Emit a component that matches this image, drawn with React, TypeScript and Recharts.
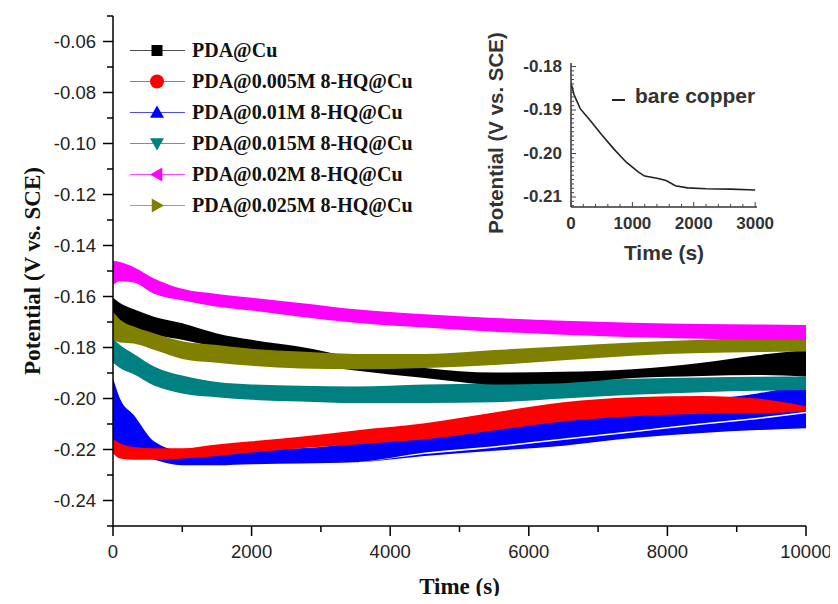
import React from 'react';
import { ComposedChart, LineChart, Line, Area, XAxis, YAxis, Legend, Label } from 'recharts';

// ---------- main chart data ----------
const times = [0, 100, 300, 600, 1000, 1500, 2000, 2700, 3500, 4500, 5500, 6500, 7500, 8500, 9300, 10000];

const seriesNames = [
  'PDA@Cu',
  'PDA@0.005M 8-HQ@Cu',
  'PDA@0.01M 8-HQ@Cu',
  'PDA@0.015M 8-HQ@Cu',
  'PDA@0.02M 8-HQ@Cu',
  'PDA@0.025M 8-HQ@Cu',
];
const seriesColors = ['#000000', '#ff0000', '#0000ff', '#008080', '#ff00ff', '#808000'];
const markerShapes = ['square', 'circle', 'up', 'down', 'left', 'right'];

const blackHi = [-0.1605, -0.1625, -0.165, -0.168, -0.1705, -0.1745, -0.177, -0.1797, -0.184, -0.188, -0.1898, -0.1895, -0.1885, -0.186, -0.183, -0.181];
const blackLo = [-0.169, -0.1705, -0.1725, -0.175, -0.177, -0.18, -0.1825, -0.1861, -0.189, -0.192, -0.1945, -0.194, -0.192, -0.1912, -0.1908, -0.1914];

const redHi = [-0.216, -0.2175, -0.219, -0.2195, -0.2195, -0.218, -0.2168, -0.215, -0.2125, -0.2097, -0.2055, -0.2015, -0.1995, -0.199, -0.2, -0.203];
const redLo = [-0.2215, -0.2235, -0.224, -0.224, -0.2235, -0.2225, -0.2212, -0.2195, -0.218, -0.216, -0.2125, -0.209, -0.207, -0.206, -0.2058, -0.205];

const blueHi = [-0.192, -0.2, -0.2065, -0.217, -0.2205, -0.22, -0.2198, -0.2195, -0.2175, -0.214, -0.211, -0.207, -0.2035, -0.2005, -0.198, -0.1945];
const blueLo = [-0.2215, -0.2205, -0.2215, -0.224, -0.2262, -0.2262, -0.2258, -0.2255, -0.225, -0.2225, -0.2205, -0.2185, -0.2155, -0.2135, -0.2124, -0.2117];
// thin white gap between the two blue strands (lower edge of upper strand / upper edge of lower strand)
const blueGapTop = [-0.2215, -0.2205, -0.2215, -0.224, -0.2262, -0.2262, -0.2258, -0.2255, -0.225, -0.2212, -0.2187, -0.2157, -0.2127, -0.2097, -0.2075, -0.2052];
const blueGapBottom = [-0.2215, -0.2205, -0.2215, -0.224, -0.2262, -0.2262, -0.2258, -0.2255, -0.225, -0.2218, -0.2193, -0.2163, -0.2133, -0.2103, -0.2081, -0.2058];

const tealHi = [-0.1765, -0.179, -0.1825, -0.1875, -0.191, -0.1935, -0.1945, -0.195, -0.1953, -0.1945, -0.194, -0.1932, -0.1923, -0.1918, -0.1915, -0.1914];
const tealLo = [-0.186, -0.188, -0.1905, -0.195, -0.198, -0.1995, -0.2005, -0.2012, -0.2018, -0.2018, -0.2015, -0.2, -0.1985, -0.1975, -0.197, -0.1967];

const magentaHi = [-0.146, -0.1465, -0.1485, -0.153, -0.157, -0.159, -0.1605, -0.1625, -0.165, -0.167, -0.1684, -0.1695, -0.1703, -0.1708, -0.171, -0.1712];
const magentaLo = [-0.1555, -0.154, -0.1545, -0.159, -0.1615, -0.164, -0.1655, -0.1679, -0.1703, -0.1722, -0.1738, -0.175, -0.176, -0.1766, -0.1769, -0.1771];

const oliveHi = [-0.166, -0.169, -0.1718, -0.1745, -0.1775, -0.179, -0.1805, -0.1816, -0.1825, -0.1825, -0.181, -0.1795, -0.178, -0.177, -0.1763, -0.1758];
const oliveLo = [-0.177, -0.178, -0.1784, -0.181, -0.1845, -0.186, -0.1872, -0.1882, -0.1885, -0.188, -0.1869, -0.185, -0.1832, -0.1822, -0.1818, -0.1816];

const xMajorTicks = [0, 2000, 4000, 6000, 8000, 10000];
const xMinorTicks = [1000, 3000, 5000, 7000, 9000];
const yMajorTicks = [-0.24, -0.22, -0.2, -0.18, -0.16, -0.14, -0.12, -0.1, -0.08, -0.06];
const yMinorTicks = [-0.25, -0.23, -0.21, -0.19, -0.17, -0.15, -0.13, -0.11, -0.09, -0.07, -0.05];

// ---------- inset data ----------
const insetTimes = [0, 50, 150, 300, 500, 700, 900, 1100, 1200, 1400, 1550, 1700, 1900, 2200, 2600, 3000];
const insetValues = [-0.1838, -0.1865, -0.1897, -0.1922, -0.1957, -0.199, -0.202, -0.2043, -0.2052, -0.2057, -0.2062, -0.2074, -0.2079, -0.2081, -0.2082, -0.2084];
const insetName = 'bare copper';
const insetXLabels = [0, 1000, 2000, 3000];
const insetYLabels = [-0.18, -0.19, -0.2, -0.21];
const insetXTicks = Array.from({ length: 16 }, (_, i) => i * 200);
const insetYTicks = Array.from({ length: 33 }, (_, i) => +(-0.212 + i * 0.001).toFixed(3));

const mainData = times.map((t, i) => ({
  t,
  black: [blackLo[i], blackHi[i]],
  red: [redLo[i], redHi[i]],
  blueUpper: [blueGapTop[i], blueHi[i]],
  blueLower: [blueLo[i], blueGapBottom[i]],
  teal: [tealLo[i], tealHi[i]],
  magenta: [magentaLo[i], magentaHi[i]],
  olive: [oliveLo[i], oliveHi[i]],
}));

const insetData = insetTimes.map((t, i) => ({ t, v: insetValues[i] }));

const near = (arr: number[], v: number) => arr.some((m) => Math.abs(m - v) < 1e-9);

const SANS = '"Liberation Sans", Arial, sans-serif';
const SERIF = '"Liberation Serif", "Times New Roman", serif';

// ---------- ticks ----------
function MainYTick(props: any) {
  const { x, y, payload } = props;
  const v = payload.value;
  const major = near(yMajorTicks, v);
  const ax = x + 10 + 7;
  return (
    <g>
      <line x1={ax - (major ? 10 : 6)} x2={ax} y1={y} y2={y} stroke="#000" strokeWidth={1.5} />
      {major && (
        <text x={x} y={y} textAnchor="end" dominantBaseline="central" fontSize={18.5} fontFamily={SANS} fill="#222">
          {v.toFixed(2)}
        </text>
      )}
    </g>
  );
}

function MainXTick(props: any) {
  const { x, y, payload } = props;
  const v = payload.value;
  const major = near(xMajorTicks, v);
  const ay = y - 10 - 9;
  return (
    <g>
      <line x1={x} x2={x} y1={ay} y2={ay + (major ? 10 : 6)} stroke="#000" strokeWidth={1.5} />
      {major && (
        <text x={x} y={y} dy="0.71em" textAnchor="middle" fontSize={18.5} fontFamily={SANS} fill="#222">
          {v}
        </text>
      )}
    </g>
  );
}

function InsetYTick(props: any) {
  const { x, y, payload } = props;
  const v = payload.value;
  const major = near(insetYLabels, v);
  const ax = x + 4 + 5;
  return (
    <g>
      <line x1={ax} x2={ax + (major ? 5 : 3)} y1={y} y2={y} stroke="#444" strokeWidth={1} />
      {major && (
        <text x={x} y={y} textAnchor="end" dominantBaseline="central" fontSize={17} fontWeight="bold" fontFamily={SANS} fill="#333">
          {v.toFixed(2)}
        </text>
      )}
    </g>
  );
}

function InsetXTick(props: any) {
  const { x, y, payload } = props;
  const v = payload.value;
  const major = near(insetXLabels, v);
  const ay = y - 4 - 6;
  return (
    <g>
      <line x1={x} x2={x} y1={ay} y2={ay - (major ? 5 : 3)} stroke="#444" strokeWidth={1} />
      {major && (
        <text x={x} y={y} dy="0.71em" textAnchor="middle" fontSize={17} fontWeight="bold" fontFamily={SANS} fill="#333">
          {v}
        </text>
      )}
    </g>
  );
}

// ---------- legend ----------
function Marker({ shape, cx, cy, color }: { shape: string; cx: number; cy: number; color: string }) {
  const s = 7;
  if (shape === 'square') return <rect x={cx - 5.5} y={cy - 5.5} width={11} height={11} fill={color} />;
  if (shape === 'circle') return <circle cx={cx} cy={cy} r={7} fill={color} />;
  let pts = '';
  if (shape === 'up') pts = `${cx},${cy - s} ${cx - s},${cy + s * 0.75} ${cx + s},${cy + s * 0.75}`;
  if (shape === 'down') pts = `${cx},${cy + s} ${cx - s},${cy - s * 0.75} ${cx + s},${cy - s * 0.75}`;
  if (shape === 'left') pts = `${cx - s},${cy} ${cx + s * 0.75},${cy - s} ${cx + s * 0.75},${cy + s}`;
  if (shape === 'right') pts = `${cx + s},${cy} ${cx - s * 0.75},${cy - s} ${cx - s * 0.75},${cy + s}`;
  return <polygon points={pts} fill={color} />;
}

function MainLegend() {
  return (
    <div style={{ display: 'flex', flexDirection: 'column' }}>
      {seriesNames.map((name, i) => (
        <div key={name} style={{ display: 'flex', alignItems: 'center', height: 31 }}>
          <svg width={62} height={31} style={{ display: 'block' }}>
            <line x1={0} x2={55} y1={15.5} y2={15.5} stroke={seriesColors[i]} strokeWidth={1} strokeOpacity={0.7} />
            <Marker shape={markerShapes[i]} cx={27} cy={15.5} color={seriesColors[i]} />
          </svg>
          <span style={{ font: `bold 20px ${SERIF}`, color: '#111', whiteSpace: 'nowrap' }}>{name}</span>
        </div>
      ))}
    </div>
  );
}

function InsetLegend() {
  return (
    <div style={{ display: 'flex', alignItems: 'center', height: 26 }}>
      <svg width={23} height={26} style={{ display: 'block' }}>
        <line x1={0} x2={13} y1={17} y2={17} stroke="#222" strokeWidth={2} />
      </svg>
      <span style={{ font: `bold 21px ${SANS}`, color: '#333', whiteSpace: 'nowrap' }}>{insetName}</span>
    </div>
  );
}

export default function App() {
  return (
    <div style={{ position: 'relative', width: 822, height: 588, background: '#fff' }}>
      <ComposedChart width={830} height={596} data={mainData} margin={{ top: 8, right: 32, bottom: 8, left: 0 }}>
        <XAxis
          dataKey="t"
          type="number"
          domain={[0, 10000]}
          ticks={[...xMajorTicks, ...xMinorTicks].sort((a, b) => a - b)}
          interval={0}
          tickLine={false}
          tickSize={10}
          tickMargin={9}
          height={70}
          axisLine={{ stroke: '#000', strokeWidth: 1.5 }}
          tick={<MainXTick />}
          allowDataOverflow
        >
          <Label
            content={() => (
              <text x={451.5} y={578} textAnchor="middle" dominantBaseline="central" fontSize={23} fontWeight="bold" fontFamily={SERIF} fill="#111">
                Time (s)
              </text>
            )}
          />
        </XAxis>
        <YAxis
          type="number"
          domain={[-0.25, -0.05]}
          ticks={[...yMinorTicks, ...yMajorTicks].sort((a, b) => a - b)}
          interval={0}
          tickLine={false}
          tickSize={10}
          tickMargin={7}
          width={105}
          axisLine={{ stroke: '#000', strokeWidth: 1.5 }}
          tick={<MainYTick />}
          allowDataOverflow
        >
          <Label
            content={() => (
              <text
                x={24}
                y={263}
                transform="rotate(-90, 24, 263)"
                textAnchor="middle"
                dominantBaseline="central"
                fontSize={23}
                fontWeight="bold"
                fontFamily={SERIF}
                fill="#111"
              >
                Potential (V vs. SCE)
              </text>
            )}
          />
        </YAxis>
        <Legend
          layout="horizontal"
          verticalAlign="middle"
          align="center"
          content={() => <MainLegend />}
          wrapperStyle={{ position: 'absolute', left: 122, top: 26.5, width: 330, height: 190 }}
        />
        <Area dataKey="blueLower" type="monotone" fill="#0000ff" fillOpacity={1} stroke="none" isAnimationActive={false} dot={false} activeDot={false} />
        <Area dataKey="blueUpper" type="monotone" fill="#0000ff" fillOpacity={1} stroke="none" isAnimationActive={false} dot={false} activeDot={false} />
        <Area dataKey="red" type="monotone" fill="#ff0000" fillOpacity={1} stroke="none" isAnimationActive={false} dot={false} activeDot={false} />
        <Area dataKey="teal" type="monotone" fill="#008080" fillOpacity={1} stroke="none" isAnimationActive={false} dot={false} activeDot={false} />
        <Area dataKey="black" type="monotone" fill="#000000" fillOpacity={1} stroke="none" isAnimationActive={false} dot={false} activeDot={false} />
        <Area dataKey="olive" type="monotone" fill="#808000" fillOpacity={1} stroke="none" isAnimationActive={false} dot={false} activeDot={false} />
        <Area dataKey="magenta" type="monotone" fill="#ff00ff" fillOpacity={1} stroke="none" isAnimationActive={false} dot={false} activeDot={false} />
      </ComposedChart>

      <div style={{ position: 'absolute', left: 462, top: 17, width: 320, height: 240 }}>
        <LineChart width={320} height={240} data={insetData} margin={{ top: 38, right: 33, bottom: 0, left: 1 }}>
          <XAxis
            dataKey="t"
            type="number"
            domain={[0, 3030]}
            ticks={insetXTicks}
            interval={0}
            tickLine={false}
            tickSize={4}
            tickMargin={6}
            height={58}
            axisLine={{ stroke: '#333', strokeWidth: 1.5 }}
            tick={<InsetXTick />}
            allowDataOverflow
          >
            <Label
              content={() => (
                <text x={194} y={227} textAnchor="middle" dominantBaseline="central" fontSize={21} fontWeight="bold" fontFamily={SANS} fill="#333">
                  Time (s)
                </text>
              )}
            />
          </XAxis>
          <YAxis
            type="number"
            domain={[-0.2123, -0.1792]}
            ticks={insetYTicks}
            interval={0}
            tickLine={false}
            tickSize={4}
            tickMargin={5}
            width={100}
            axisLine={{ stroke: '#333', strokeWidth: 1.5 }}
            tick={<InsetYTick />}
            allowDataOverflow
          >
            <Label
              content={() => (
                <text
                  x={25}
                  y={108}
                  transform="rotate(-90, 25, 108)"
                  textAnchor="middle"
                  dominantBaseline="central"
                  fontSize={20.5}
                  fontWeight="bold"
                  fontFamily={SANS}
                  fill="#333"
                >
                  Potential (V vs. SCE)
                </text>
              )}
            />
          </YAxis>
          <Legend
            layout="horizontal"
            verticalAlign="middle"
            align="center"
            content={() => <InsetLegend />}
            wrapperStyle={{ position: 'absolute', left: 142, top: 58, width: 170, height: 26 }}
          />
          <Line dataKey="v" type="linear" stroke="#222" strokeWidth={1.6} dot={false} activeDot={false} isAnimationActive={false} />
        </LineChart>
      </div>
    </div>
  );
}
